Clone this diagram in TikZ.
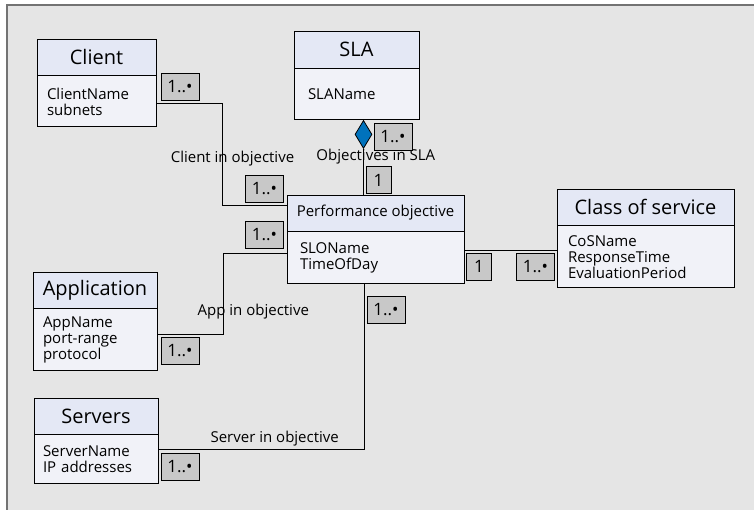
\documentclass[tikz,border=0pt]{standalone}
\usepackage{fontspec}
\setmainfont{Open Sans}
\usepackage{xcolor}
\usetikzlibrary{calc, shapes.geometric, positioning}

\definecolor{bgcol}{RGB}{229,229,229}
\definecolor{framecol}{RGB}{115,115,115}
\definecolor{headcol}{RGB}{228,232,245}
\definecolor{bodycol}{RGB}{241,242,248}
\definecolor{multcol}{RGB}{200,200,200}
\definecolor{aggcol}{RGB}{0,114,188}

\begin{document}
\begin{tikzpicture}[x=1pt, y=-1pt,
    hdr/.style={draw, fill=headcol, line width=0.9pt, inner sep=0pt,
        minimum height=36pt, font=\fontsize{20}{22}\selectfont},
    body/.style={draw, fill=bodycol, line width=0.9pt, inner xsep=10pt, inner ysep=0pt,
        align=left, anchor=north, font=\fontsize{15}{16}\selectfont},
    mult/.style={draw, fill=multcol, line width=0.8pt, inner sep=0pt,
        minimum width=38pt, minimum height=27pt, font=\fontsize{17}{18}\selectfont},
    one/.style={mult, minimum width=25pt},
    lbl/.style={font=\fontsize{15}{16}\selectfont},
    link/.style={line width=0.9pt}]
    % Hintergrund mit Rahmen oben und links
    \useasboundingbox (0,0) rectangle (754,510);
    \fill[bgcol] (7,5) rectangle (754,510);
    \draw[framecol, line width=2pt] (754,5) -- (7,5) -- (7,510);

    % Klassen
    \node[hdr, minimum width=119pt] (client) at (96.5,57) {Client};
    \node[body, text width=99pt, minimum height=51pt] (clientb) at (client.south) {ClientName\\subnets};

    \node[hdr, minimum width=125pt, minimum height=37pt] (sla) at (356.5,49.5) {SLA};
    \node[body, inner xsep=14pt, text width=97pt, minimum height=51pt] (slab) at (sla.south) {SLAName};

    \node[hdr, minimum width=177pt, font=\fontsize{15}{16}\selectfont] (perf) at (375.5,213) {Performance objective};
    \node[body, inner xsep=13pt, text width=151pt, minimum height=52pt] (perfb) at (perf.south) {SLOName\\TimeOfDay};

    \node[hdr, minimum width=177pt] (cos) at (645.5,207) {Class of service};
    \node[body, inner xsep=11pt, text width=155pt, minimum height=62pt] (cosb) at (cos.south) {CoSName\\ResponseTime\\EvaluationPeriod};

    \node[hdr, minimum width=124pt] (app) at (95,290) {Application};
    \node[body, text width=104pt, minimum height=62pt] (appb) at (app.south) {AppName\\port-range\\protocol};

    \node[hdr, minimum width=124pt] (servers) at (96,416) {Servers};
    \node[body, inner xsep=9pt, text width=106pt, minimum height=49pt] (serversb) at (servers.south) {ServerName\\IP addresses};

    % Verbindungen
    \node[diamond, draw, fill=aggcol, line width=0.8pt, inner sep=0pt,
        minimum width=17pt, minimum height=28pt, anchor=north] (agg) at (363.5,120) {};
    \draw[link] (agg.south) -- (agg.south |- perf.north);
    \draw[link] ([yshift=-2.5pt]clientb.east) -- ++(65.7,0) |- ([yshift=8pt]perf.west);
    \draw[link] ([yshift=5pt]appb.east) -- ++(66.3,0) |- ([yshift=4pt]perfb.west);
    \draw[link] ([yshift=7.5pt]perfb.east) -- ([yshift=7.5pt]perfb.east -| cosb.west);
    \draw[link] ([xshift=-11.5pt]perfb.south) |- ([yshift=10pt]serversb.east);

    % Beschriftungen
    \node[lbl] (lclient) at (232.5,159) {Client in objective};
    \node[lbl] (lsla) at (375.8,156.5) {Objectives in SLA};
    \node[lbl] (lapp) at (253.3,311.5) {App in objective};
    \node[lbl] (lserver) at (274.7,439) {Server in objective};

    % Multiplizitaeten
    \node[mult] (mclient) at (180,86.5) {1..•};
    \node[mult] (mperfa) at (264.5,189) {1..•};
    \node[mult] (mperfb) at (264.5,235) {1..•};
    \node[mult] (msla) at (393,137) {1..•};
    \node[one] (oneperf) at (378.5,180) {1};
    \node[one] (onecos) at (479,266.5) {1};
    \node[mult] (mcos) at (535.5,266.5) {1..•};
    \node[mult] (mperfc) at (386,309.5) {1..•};
    \node[mult] (mapp) at (180,351) {1..•};
    \node[mult] (mservers) at (180,467) {1..•};
\end{tikzpicture}
\end{document}
